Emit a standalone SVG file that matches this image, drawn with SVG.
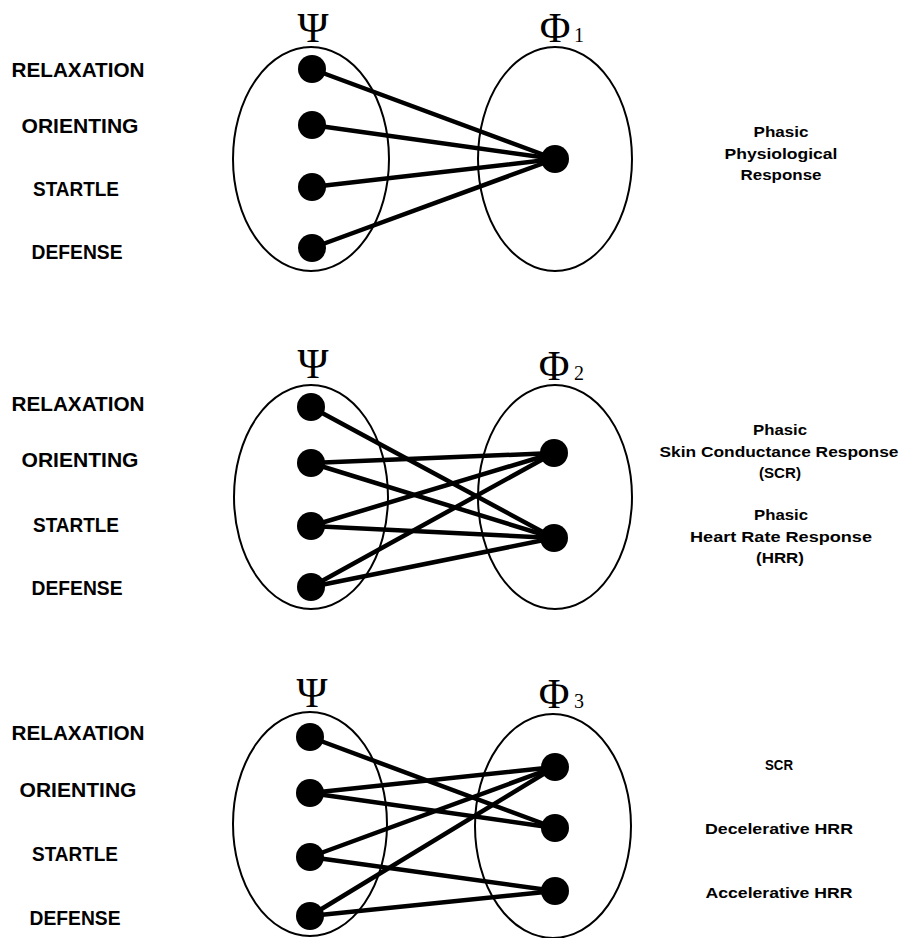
<svg xmlns="http://www.w3.org/2000/svg" width="903" height="938" viewBox="0 0 903 938">
<style>
.set{fill:none;stroke:#000;stroke-width:2}
.dot{fill:#000}
.lab{font-family:"Liberation Sans","DejaVu Sans",sans-serif;font-weight:bold;font-size:20px;text-anchor:middle;fill:#000}
.rlab{font-family:"Liberation Sans","DejaVu Sans",sans-serif;font-weight:bold;font-size:15px;text-anchor:middle;fill:#000}
.greek{font-family:"Liberation Serif","DejaVu Serif",serif;font-size:42px;text-anchor:middle;fill:#000}
.sub{font-family:"Liberation Serif","DejaVu Serif",serif;font-size:20px;fill:#000}
.con line{stroke:#000;stroke-width:4.5;stroke-linecap:round}
</style>
<rect width="903" height="938" fill="#fff"/>

<!-- Panel 1 -->
<g id="psi1">
<ellipse class="set" cx="311" cy="159" rx="78" ry="112"/>
<text class="greek" x="313" y="42">Ψ</text>
</g>
<g id="phi1">
<ellipse class="set" cx="555" cy="159" rx="77" ry="112"/>
<text class="greek" x="555" y="42">Φ</text><text class="sub" x="574" y="42">1</text>
</g>
<g id="labels1">
<text class="lab" x="78" y="77" textLength="133" lengthAdjust="spacingAndGlyphs">RELAXATION</text>
<text class="lab" x="80" y="133" textLength="117" lengthAdjust="spacingAndGlyphs">ORIENTING</text>
<text class="lab" x="76" y="196" textLength="86" lengthAdjust="spacingAndGlyphs">STARTLE</text>
<text class="lab" x="77" y="259" textLength="91" lengthAdjust="spacingAndGlyphs">DEFENSE</text>
</g>
<g id="resp1">
<text class="rlab" x="781" y="137" textLength="55" lengthAdjust="spacingAndGlyphs">Phasic</text>
<text class="rlab" x="781" y="159" textLength="113" lengthAdjust="spacingAndGlyphs">Physiological</text>
<text class="rlab" x="781" y="180" textLength="81" lengthAdjust="spacingAndGlyphs">Response</text>
</g>
<g class="con" id="connectors1">
<line x1="312" y1="69" x2="555" y2="159"/>
<line x1="312" y1="125" x2="555" y2="159"/>
<line x1="312" y1="187" x2="555" y2="159"/>
<line x1="312" y1="248" x2="555" y2="159"/>
</g>
<g id="nodes1">
<circle class="dot" cx="312" cy="69" r="14"/>
<circle class="dot" cx="312" cy="125" r="14"/>
<circle class="dot" cx="312" cy="187" r="14"/>
<circle class="dot" cx="312" cy="248" r="14"/>
<circle class="dot" cx="555" cy="159" r="14"/>
</g>

<!-- Panel 2 -->
<g id="psi2">
<ellipse class="set" cx="311" cy="497" rx="77" ry="112"/>
<text class="greek" x="313" y="378">Ψ</text>
</g>
<g id="phi2">
<ellipse class="set" cx="555" cy="497" rx="77" ry="112"/>
<text class="greek" x="554" y="380">Φ</text><text class="sub" x="574" y="380">2</text>
</g>
<g id="labels2">
<text class="lab" x="78" y="411" textLength="133" lengthAdjust="spacingAndGlyphs">RELAXATION</text>
<text class="lab" x="80" y="467" textLength="117" lengthAdjust="spacingAndGlyphs">ORIENTING</text>
<text class="lab" x="76" y="532" textLength="86" lengthAdjust="spacingAndGlyphs">STARTLE</text>
<text class="lab" x="77" y="595" textLength="91" lengthAdjust="spacingAndGlyphs">DEFENSE</text>
</g>
<g id="resp2">
<text class="rlab" x="780" y="435" textLength="54" lengthAdjust="spacingAndGlyphs">Phasic</text>
<text class="rlab" x="779" y="457" textLength="239" lengthAdjust="spacingAndGlyphs">Skin Conductance Response</text>
<text class="rlab" x="780" y="478" textLength="42" lengthAdjust="spacingAndGlyphs">(SCR)</text>
<text class="rlab" x="781" y="520" textLength="54" lengthAdjust="spacingAndGlyphs">Phasic</text>
<text class="rlab" x="781" y="542" textLength="182" lengthAdjust="spacingAndGlyphs">Heart Rate Response</text>
<text class="rlab" x="780" y="563" textLength="48" lengthAdjust="spacingAndGlyphs">(HRR)</text>
</g>
<g class="con" id="connectors2">
<line x1="311" y1="407" x2="554" y2="538"/>
<line x1="311" y1="463" x2="554" y2="453"/>
<line x1="311" y1="463" x2="554" y2="538"/>
<line x1="311" y1="526" x2="554" y2="453"/>
<line x1="311" y1="526" x2="554" y2="538"/>
<line x1="311" y1="587" x2="554" y2="453"/>
<line x1="311" y1="587" x2="554" y2="538"/>
</g>
<g id="nodes2">
<circle class="dot" cx="311" cy="407" r="14"/>
<circle class="dot" cx="311" cy="463" r="14"/>
<circle class="dot" cx="311" cy="526" r="14"/>
<circle class="dot" cx="311" cy="587" r="14"/>
<circle class="dot" cx="554" cy="453" r="14"/>
<circle class="dot" cx="554" cy="538" r="14"/>
</g>

<!-- Panel 3 -->
<g id="psi3">
<ellipse class="set" cx="310" cy="824" rx="77" ry="112"/>
<text class="greek" x="312" y="707">Ψ</text>
</g>
<g id="phi3">
<ellipse class="set" cx="553" cy="826" rx="78" ry="112"/>
<text class="greek" x="554" y="708">Φ</text><text class="sub" x="574" y="708">3</text>
</g>
<g id="labels3">
<text class="lab" x="78" y="740" textLength="133" lengthAdjust="spacingAndGlyphs">RELAXATION</text>
<text class="lab" x="78" y="797" textLength="117" lengthAdjust="spacingAndGlyphs">ORIENTING</text>
<text class="lab" x="75" y="861" textLength="86" lengthAdjust="spacingAndGlyphs">STARTLE</text>
<text class="lab" x="75" y="925" textLength="91" lengthAdjust="spacingAndGlyphs">DEFENSE</text>
</g>
<g id="resp3">
<text class="rlab" x="779" y="770" textLength="28" lengthAdjust="spacingAndGlyphs">SCR</text>
<text class="rlab" x="779" y="834" textLength="148" lengthAdjust="spacingAndGlyphs">Decelerative HRR</text>
<text class="rlab" x="779" y="898" textLength="147" lengthAdjust="spacingAndGlyphs">Accelerative HRR</text>
</g>
<g class="con" id="connectors3">
<line x1="310" y1="737" x2="555" y2="828"/>
<line x1="310" y1="793" x2="555" y2="767"/>
<line x1="310" y1="793" x2="555" y2="828"/>
<line x1="310" y1="857" x2="555" y2="767"/>
<line x1="310" y1="857" x2="555" y2="891"/>
<line x1="310" y1="916" x2="555" y2="767"/>
<line x1="310" y1="916" x2="555" y2="891"/>
</g>
<g id="nodes3">
<circle class="dot" cx="310" cy="737" r="14"/>
<circle class="dot" cx="310" cy="793" r="14"/>
<circle class="dot" cx="310" cy="857" r="14"/>
<circle class="dot" cx="310" cy="916" r="14"/>
<circle class="dot" cx="555" cy="767" r="14"/>
<circle class="dot" cx="555" cy="828" r="14"/>
<circle class="dot" cx="555" cy="891" r="14"/>
</g>
</svg>
